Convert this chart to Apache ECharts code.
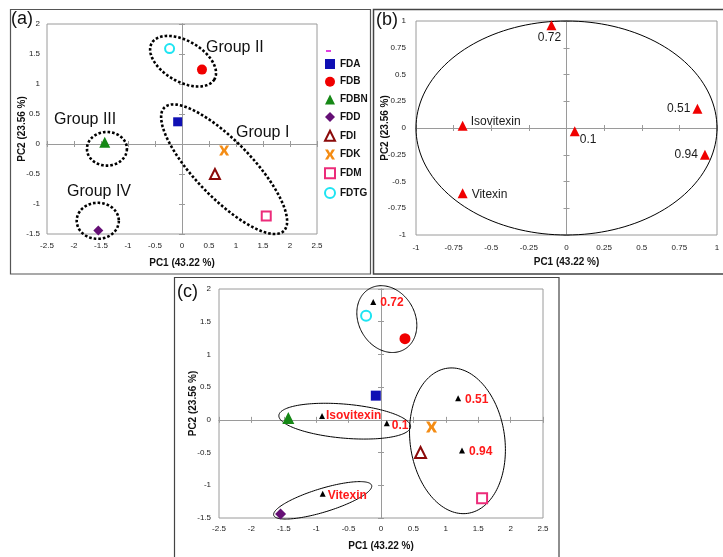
<!DOCTYPE html>
<html><head><meta charset="utf-8">
<script src="https://cdn.jsdelivr.net/npm/echarts@6/dist/echarts.min.js"></script>
<style>html,body{margin:0;padding:0;background:#fff}#c{width:723px;height:557px}</style>
</head><body><div id="c"></div>
<script>
// ---------- data ----------
const sampleNames = ['FDA','FDB','FDBN','FDD','FDI','FDK','FDM','FDTG'];
const samplePC1 = [-0.08, 0.37, -1.43, -1.55, 0.61, 0.78, 1.56, -0.23];
const samplePC2 = [0.37, 1.24, 0.03, -1.44, -0.50, -0.11, -1.20, 1.59];

const loadingNames = ['0.72','0.51','0.94','0.1','Isovitexin','Vitexin'];
const loadingPC1 = [-0.10, 0.87, 0.92, 0.055, -0.69, -0.69];
const loadingPC2 = [0.96, 0.18, -0.25, -0.03, 0.02, -0.61];

const biplotPC1 = [-0.12, 1.19, 1.25, 0.09, -0.91, -0.90];
const biplotPC2 = [1.80, 0.33, -0.47, -0.05, 0.06, -1.13];

const groupNames = ['Group II','Group I','Group III','Group IV'];
// ellipse annotations: [center PC1, center PC2, radius PC1, radius PC2, tilt deg]
const groupEllipsesA = [[0.02,1.38,0.67,0.34,30],[0.78,-0.42,1.59,0.47,46],[-1.39,-0.08,0.37,0.28,0],[-1.56,-1.28,0.39,0.30,0]];
const circleB = [[0,0,1,1,0]];
const groupEllipsesC = [[0.09,1.54,0.54,0.43,60],[-0.56,-0.02,1.02,0.26,5],[-0.90,-1.23,0.79,0.18,-17],[1.18,-0.32,0.73,1.12,-8]];

const pcTicksAC = {min:-2.5, max:2.5, interval:0.5};
const pc2TicksAC = {min:-1.5, max:2, interval:0.5};
const pcTicksB = {min:-1, max:1, interval:0.25};
const xTitle = 'PC1 (43.22 %)';
const yTitle = 'PC2 (23.56 %)';

// ---------- styles ----------
const FONT = 'Liberation Sans, Arial, Helvetica, sans-serif';
const GRAY = '#9a9a9a';
const xPath = 'path://M0,0L3,0L5,3.4L7,0L10,0L6.9,5L10,10L7,10L5,6.6L3,10L0,10L3.1,5Z';
const sampleStyle = [
  {symbol:'rect', size:9, itemStyle:{color:'#1010b4', opacity:1}},
  {symbol:'circle', size:10, itemStyle:{color:'#f00000', opacity:1}},
  {symbol:'triangle', size:11, itemStyle:{color:'#168816', opacity:1}},
  {symbol:'diamond', size:10, itemStyle:{color:'#650f75', opacity:1}},
  {symbol:'triangle', size:10, itemStyle:{color:'#fff', borderColor:'#8b0a0a', borderWidth:2, opacity:1}},
  {symbol:xPath, size:10, itemStyle:{color:'#f48c14', opacity:1}},
  {symbol:'rect', size:9, itemStyle:{color:'#fff', borderColor:'#ec2c7a', borderWidth:2, opacity:1}},
  {symbol:'circle', size:9, itemStyle:{color:'#fff', borderColor:'#1ee4f2', borderWidth:2, opacity:1}}
];

function makeAxes(dim, gridIndex, t, labelMargin, name, nameGap) {
  const pos = dim === 'x' ? 'bottom' : 'left';
  const base = {type:'value', gridIndex, min:t.min, max:t.max, interval:t.interval, position:pos, splitLine:{show:false}};
  return [
    Object.assign({}, base, {
      axisLine:{show:false, onZero:false}, axisTick:{show:false},
      axisLabel:{fontSize:8, color:'#222', margin:labelMargin, fontFamily:FONT},
      name, nameLocation:'middle', nameGap, nameMoveOverlap:false,
      nameTextStyle:{fontWeight:'bold', fontSize:10, color:'#111', fontFamily:FONT}
    }),
    Object.assign({}, base, {
      axisLine:{show:true, onZero:true, lineStyle:{color:GRAY, width:1}},
      axisTick:{show:true, inside:false, length:3, lineStyle:{color:GRAY}},
      axisLabel:{show:false}
    }),
    Object.assign({}, base, {
      axisLine:{show:true, onZero:true, lineStyle:{color:GRAY, width:1}},
      axisTick:{show:true, inside:true, length:3, lineStyle:{color:GRAY}},
      axisLabel:{show:false}
    })
  ];
}

const xAxis = [].concat(
  makeAxes('x', 0, pcTicksAC, 8, xTitle, 24),
  makeAxes('x', 1, pcTicksB, 9, xTitle, 22),
  makeAxes('x', 2, pcTicksAC, 7, xTitle, 23)
);
const yAxis = [].concat(
  makeAxes('y', 0, pc2TicksAC, 7, yTitle, 20),
  makeAxes('y', 1, pcTicksB, 10, yTitle, 26),
  makeAxes('y', 2, pc2TicksAC, 8, yTitle, 21)
);

function ellipseSeries(axisIdx, data, style) {
  return {
    type:'custom', xAxisIndex:axisIdx, yAxisIndex:axisIdx, clip:false, silent:true, z:3,
    data,
    renderItem(params, api) {
      const c = api.coord([api.value(0), api.value(1)]);
      const rx = api.size([api.value(2), 0])[0];
      const ry = api.size([0, api.value(3)])[1];
      const th = api.value(4) * Math.PI / 180;
      const pts = [];
      for (let k = 0; k < 160; k++) {
        const t = k / 160 * 2 * Math.PI;
        const ex = rx * Math.cos(t), ey = ry * Math.sin(t);
        pts.push([c[0] + ex * Math.cos(th) - ey * Math.sin(th), c[1] + ex * Math.sin(th) + ey * Math.cos(th)]);
      }
      return {type:'polygon', shape:{points:pts}, style:Object.assign({fill:'none'}, style)};
    }
  };
}

const series = [];
sampleNames.forEach((n, i) => {
  const st = sampleStyle[i];
  series.push({type:'scatter', name:n, xAxisIndex:0, yAxisIndex:0, symbol:st.symbol, symbolSize:st.size,
    itemStyle:st.itemStyle, data:[[samplePC1[i], samplePC2[i]]], z:4});
  series.push({type:'scatter', name:n, xAxisIndex:6, yAxisIndex:6, symbol:st.symbol, symbolSize:st.size + 1,
    itemStyle:st.itemStyle, data:[[samplePC1[i], samplePC2[i]]], z:4});
});

const labelB = [
  {position:'bottom', distance:1, offset:[-2,0]},
  {position:'left', distance:2},
  {position:'left', distance:2},
  {position:[10,7]},
  {position:'right', distance:3, offset:[0,-4]},
  {position:'right', distance:4, offset:[0,1]}
];
const labelC = [
  {position:'right', distance:4, offset:[0,1]},
  {position:'right', distance:4, offset:[0,1]},
  {position:'right', distance:4, offset:[0,1]},
  {position:'right', distance:2, offset:[0,3]},
  {position:'right', distance:1, offset:[0,0]},
  {position:'right', distance:2, offset:[0,2]}
];
series.push({type:'scatter', xAxisIndex:3, yAxisIndex:3, symbol:'triangle', symbolSize:10, z:4,
  itemStyle:{color:'#f00000', opacity:1},
  label:{show:true, formatter:'{b}', fontSize:12, color:'#1a1a1a', fontFamily:FONT},
  data:loadingNames.map((n, i) => ({name:n, value:[loadingPC1[i], loadingPC2[i]], label:labelB[i]}))
});
series.push({type:'scatter', xAxisIndex:6, yAxisIndex:6, symbol:'triangle', symbolSize:6, z:5,
  itemStyle:{color:'#000', opacity:1},
  label:{show:true, formatter:'{b}', fontSize:12, fontWeight:'bold', color:'#ff1a1a', fontFamily:FONT},
  data:loadingNames.map((n, i) => ({name:n, value:[biplotPC1[i], biplotPC2[i]], label:labelC[i]}))
});
series.push(ellipseSeries(0, groupEllipsesA, {stroke:'#000', lineWidth:2.6, lineDash:[2.6,2]}));
series.push(ellipseSeries(3, circleB, {stroke:'#000', lineWidth:1}));
series.push(ellipseSeries(6, groupEllipsesC, {stroke:'#000', lineWidth:1}));

const groupLabelPos = [[206,40],[236,125],[54,112],[67,184]];
const graphic = [
  {type:'rect', shape:{x:10.5, y:9.5, width:360, height:264.5}, style:{fill:'none', stroke:'#555', lineWidth:1.2}, z:-1},
  {type:'rect', shape:{x:373.5, y:9.5, width:360, height:264.5}, style:{fill:'none', stroke:'#444', lineWidth:1.5}, z:-1},
  {type:'rect', shape:{x:174.5, y:277.5, width:384.5, height:290}, style:{fill:'none', stroke:'#444', lineWidth:1.2}, z:-1},
  {type:'text', left:11, top:10, style:{text:'(a)', font:'18px ' + FONT, fill:'#111'}},
  {type:'text', left:376, top:11, style:{text:'(b)', font:'18px ' + FONT, fill:'#111'}},
  {type:'text', left:177, top:283, style:{text:'(c)', font:'18px ' + FONT, fill:'#111'}},
  {type:'rect', shape:{x:326, y:50, width:5, height:2}, style:{fill:'#e040e0'}}
].concat(groupNames.map((g, i) => ({type:'text', left:groupLabelPos[i][0], top:groupLabelPos[i][1],
  style:{text:g, font:'16px ' + FONT, fill:'#111'}})));

const chart = echarts.init(document.getElementById('c'), null, {renderer:'canvas'});
chart.setOption({
  animation:false,
  backgroundColor:'#fff',
  grid:[
    {left:47, top:24, width:270, height:210, show:true, borderColor:GRAY, borderWidth:1},
    {left:416, top:21, width:301, height:214, show:true, borderColor:GRAY, borderWidth:1},
    {left:219, top:289, width:324, height:229, show:true, borderColor:GRAY, borderWidth:1}
  ],
  xAxis, yAxis,
  legend:{orient:'vertical', left:319, top:54, itemWidth:10, itemHeight:10, itemGap:7.7,
    data:sampleNames, selectedMode:false,
    textStyle:{fontSize:10, fontWeight:'bold', color:'#111', fontFamily:FONT, lineHeight:10}},
  graphic,
  series
});
</script></body></html>
